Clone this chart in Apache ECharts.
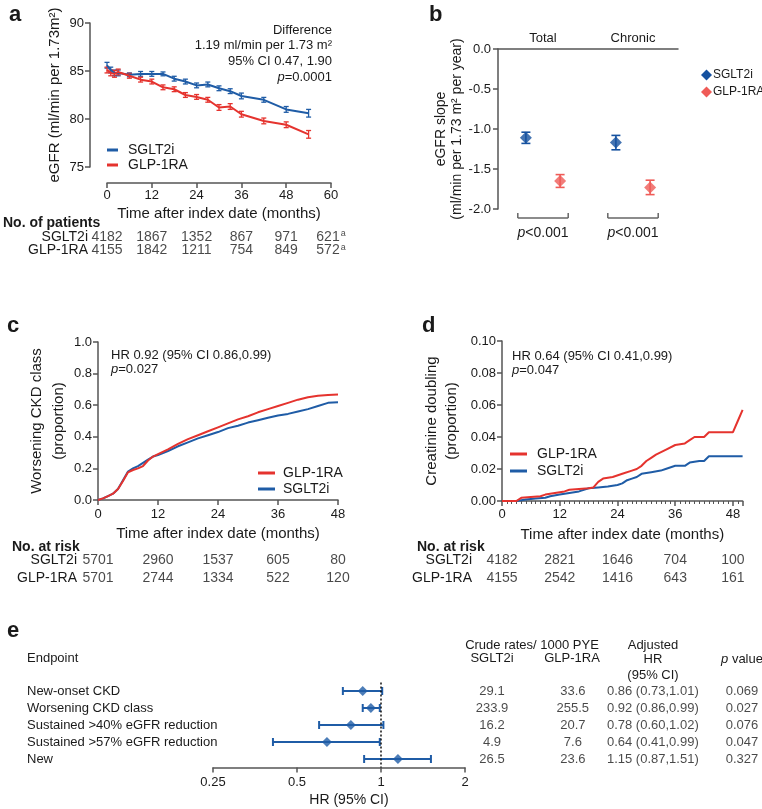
<!DOCTYPE html>
<html><head><meta charset="utf-8">
<script src="https://cdn.jsdelivr.net/npm/echarts@6/dist/echarts.min.js"></script>
<style>html,body{margin:0;padding:0;background:#fff}#c{width:762px;height:809px}</style>
</head><body><div id="c"></div>
<script>
// ================= DATA =================
// Panel a: eGFR over time
const aMonths  = [0,1,2,3,6,9,12,15,18,21,24,27,30,33,36,42,48,54];
const aSglt    = [85.6,85.1,84.8,84.8,84.6,84.7,84.7,84.7,84.2,83.9,83.5,83.6,83.2,82.9,82.4,82.0,81.0,80.6];
const aSgltErr = [0.3,0.3,0.3,0.3,0.2,0.25,0.25,0.2,0.25,0.25,0.25,0.25,0.25,0.25,0.3,0.25,0.3,0.4];
const aGlp     = [85.1,84.8,84.7,84.9,84.5,84.1,83.9,83.3,83.1,82.5,82.3,82.0,81.2,81.3,80.5,79.8,79.4,78.4];
const aGlpErr  = [0.3,0.3,0.35,0.3,0.25,0.25,0.25,0.25,0.25,0.25,0.25,0.25,0.3,0.3,0.3,0.3,0.3,0.4];
const aTickMonths = [0,12,24,36,48,60];
const aPatSglt = ['4182','1867','1352','867','971','621'];
const aPatGlp  = ['4155','1842','1211','754','849','572'];
const aPatNote = ['','','','','','a'];
const aAnnot = ['Difference','1.19 ml/min per 1.73 m\u00b2','95% CI 0.47, 1.90'];
const aP = '=0.0001';

// Panel b: eGFR slope
const bCats = ['Total','Chronic'];
const bSglt = [-1.11,-1.17];
const bSgltErr = [0.07,0.09];
const bGlp = [-1.65,-1.73];
const bGlpErr = [0.08,0.09];
const bPval = ['<0.001','<0.001'];

// Panel c: worsening CKD class (cumulative proportion)
const cMonths = [0,1,2,3,4,5,6,7,8,9,10,11,12,14,16,18,20,22,24,26,28,30,32,34,36,38,40,42,44,46,48];
const cGlp  = [0,0.01,0.025,0.04,0.07,0.12,0.175,0.19,0.2,0.215,0.25,0.275,0.29,0.32,0.355,0.385,0.41,0.435,0.46,0.485,0.51,0.53,0.555,0.575,0.595,0.615,0.635,0.65,0.66,0.665,0.668];
const cSglt = [0,0.01,0.025,0.04,0.07,0.125,0.18,0.2,0.215,0.235,0.255,0.275,0.285,0.31,0.34,0.365,0.39,0.41,0.43,0.455,0.47,0.49,0.505,0.52,0.535,0.545,0.56,0.575,0.595,0.615,0.618];
const cHR = 'HR 0.92 (95% CI 0.86,0.99)';
const cP = '=0.027';
const cRiskMonths = [0,12,24,36,48];
const cRiskSglt = ['5701','2960','1537','605','80'];
const cRiskGlp  = ['5701','2744','1334','522','120'];

// Panel d: creatinine doubling
const dGlpMonths = [0,3,4,6,8,9,11,13,14,16,18,19,20,21,23,25,27,28,29,30,31,32,34,36,38,39,40,42,43,48,49,50];
const dGlp = [0,0,0.002,0.0025,0.003,0.004,0.005,0.006,0.007,0.0075,0.008,0.0085,0.012,0.014,0.015,0.017,0.019,0.02,0.022,0.025,0.027,0.029,0.032,0.035,0.036,0.038,0.04,0.04,0.043,0.043,0.05,0.057];
const dSgltMonths = [0,3,5,7,9,10,12,14,16,18,20,22,24,25,26,27,28,29,31,33,34,36,38,39,41,42,43,50];
const dSglt = [0,0,0.001,0.0015,0.002,0.003,0.004,0.005,0.006,0.008,0.0085,0.009,0.01,0.011,0.013,0.014,0.015,0.017,0.018,0.019,0.02,0.022,0.022,0.024,0.025,0.025,0.028,0.028];
const dHR = 'HR 0.64 (95% CI 0.41,0.99)';
const dP = '=0.047';
const dRiskMonths = [0,12,24,36,48];
const dRiskSglt = ['4182','2821','1646','704','100'];
const dRiskGlp  = ['4155','2542','1416','643','161'];

// Panel e: forest plot
const eEndpoints = ['New-onset CKD','Worsening CKD class','Sustained >40% eGFR reduction','Sustained >57% eGFR reduction','New'];
const eHR  = [0.86,0.92,0.78,0.64,1.15];
const eLo  = [0.73,0.86,0.60,0.41,0.87];
const eHi  = [1.01,0.99,1.02,0.99,1.51];
const eRateSglt = ['29.1','233.9','16.2','4.9','26.5'];
const eRateGlp  = ['33.6','255.5','20.7','7.6','23.6'];
const eHRtext = ['0.86 (0.73,1.01)','0.92 (0.86,0.99)','0.78 (0.60,1.02)','0.64 (0.41,0.99)','1.15 (0.87,1.51)'];
const ePval = ['0.069','0.027','0.076','0.047','0.327'];

const groups = ['SGLT2i','GLP-1RA'];

// ================= STYLE / LAYOUT =================
const FONT = '"Liberation Sans", Arial, Helvetica, sans-serif';
const AX = '#555555', TXT = '#1a1a1a';
const BLUE = '#1f5ca6', RED = '#e5332e', BLUE_B = '#15519f', RED_B = '#ef5b57';
const bDodge = 0.19;          // horizontal dodge in panel b (axis units)
const bBracketHalf = 0.28;
const eColX = [0, 0.97, 1.93, 3];  // table column positions in panel e (axis units)

function lab(extra){ return Object.assign({color:TXT, fontSize:13, fontFamily:FONT}, extra||{}); }
function valAxis(o){
  const base = {
    type:'value', gridIndex:o.grid, min:o.min, max:o.max, interval:o.interval,
    axisLine:{show:true, onZero:false, lineStyle:{color:AX, width:1.5}},
    axisTick:{show:true, length:5, lineStyle:{color:AX, width:1.5}},
    axisLabel:lab({margin:o.margin||6, formatter:o.fmt, showMaxLabel:o.showMax}),
    splitLine:{show:false},
    name:o.name, nameLocation:'middle', nameGap:o.nameGap,
    nameTextStyle:{color:TXT, fontSize:o.nameSize||15, fontFamily:FONT, lineHeight:o.nameLH||18, padding:o.namePad||0},
    offset:o.offset||0
  };
  if (o.extra) Object.assign(base, o.extra);
  return base;
}
function hiddenVal(grid,min,max){ return {type:'value', gridIndex:grid, min:min, max:max, show:false, splitLine:{show:false}}; }
function rowAxis(grid, rows, margin, extraLabel){
  return {type:'category', gridIndex:grid, data:rows, inverse:true,
    axisLine:{show:false}, axisTick:{show:false}, splitLine:{show:false},
    axisLabel:lab(Object.assign({margin:margin, fontSize:14, interval:0}, extraLabel||{}))};
}
function vErr(color, cap, lw){
  return function(params, api){
    const x = api.value(0), lo = api.value(1), hi = api.value(2);
    const a = api.coord([x, lo]), b = api.coord([x, hi]);
    const st = {stroke:color, lineWidth:lw, fill:null};
    return {type:'group', children:[
      {type:'line', shape:{x1:a[0],y1:a[1],x2:b[0],y2:b[1]}, style:st},
      {type:'line', shape:{x1:a[0]-cap,y1:a[1],x2:a[0]+cap,y2:a[1]}, style:st},
      {type:'line', shape:{x1:b[0]-cap,y1:b[1],x2:b[0]+cap,y2:b[1]}, style:st}
    ]};
  };
}
function tableSeries(xi, yi, xs, rowsData, notes){
  const data = [];
  rowsData.forEach((row, r) => row.forEach((v, i) => data.push([xs[i], r, v, (notes && notes[r]) ? notes[r][i] : ''])));
  return {type:'scatter', xAxisIndex:xi, yAxisIndex:yi, symbolSize:1, itemStyle:{color:'rgba(0,0,0,0)'},
    silent:true, data:data,
    label:{show:true, position:'inside', color:TXT, fontSize:14, fontFamily:FONT,
      formatter:p => p.value[3] ? p.value[2] + '{s|' + p.value[3] + '}' : String(p.value[2]),
      rich:{s:{fontSize:9, fontFamily:FONT, color:TXT, verticalAlign:'top', padding:[0,0,6,1]}}}};
}
function txt(x, y, text, o){
  o = o || {};
  const st = {text:text, x:x, y:y, fill:TXT, fontSize:o.size||13, fontFamily:FONT,
    fontWeight:o.weight||'normal', align:o.align||'left', textAlign:o.align||'left',
    verticalAlign:'middle', textVerticalAlign:'middle'};
  if (o.rich) st.rich = o.rich;
  return {type:'text', silent:true, style:st};
}
const italicRich = sz => ({i:{fontStyle:'italic', fontSize:sz, fontFamily:FONT, fill:TXT, color:TXT}});

const zip = (xs, ys) => xs.map((x,i) => [x, ys[i]]);

const option = {
  animation:false,
  backgroundColor:'#ffffff',
  textStyle:{fontFamily:FONT},
  grid:[
    {left:107, top:23, width:224, height:144},   // 0 a
    {left:107, top:230, width:224, height:27},   // 1 a table
    {left:498, top:49, width:180, height:160},   // 2 b
    {left:98, top:342, width:240, height:158},   // 3 c
    {left:98, top:551, width:240, height:36},    // 4 c table
    {left:502, top:341, width:240.6, height:160},// 5 d
    {left:502, top:551, width:240.6, height:36}, // 6 d table
    {left:213, top:682.5, width:252, height:85}, // 7 e forest
    {left:492, top:682.5, width:250, height:85}  // 8 e table
  ],
  xAxis:[
    valAxis({grid:0, min:0, max:60, interval:12, offset:16, name:'Time after index date (months)', nameGap:22, margin:6}),
    hiddenVal(1,0,60),
    hiddenVal(2,0.5,2.5),
    {type:'category', gridIndex:2, data:bCats, position:'top', boundaryGap:true,
      axisLine:{show:true, lineStyle:{color:AX, width:1.5}}, axisTick:{show:false},
      axisLabel:lab({margin:4}), splitLine:{show:false}},
    valAxis({grid:3, min:0, max:48, interval:12, name:'Time after index date (months)', nameGap:25, margin:8}),
    hiddenVal(4,0,48),
    valAxis({grid:5, min:0, max:50, interval:12, name:'Time after index date (months)', nameGap:25, margin:7, showMax:false,
      extra:{minorTick:{show:true, splitNumber:12, length:3, lineStyle:{color:AX, width:1}}}}),
    hiddenVal(6,0,50),
    {type:'log', logBase:2, gridIndex:7, min:0.25, max:2,
      axisLine:{show:true, lineStyle:{color:AX, width:1.5}},
      axisTick:{show:true, length:5, lineStyle:{color:AX, width:1.5}},
      axisLabel:lab({margin:8, formatter:v => String(+(+v).toFixed(2))}), splitLine:{show:false}, minorTick:{show:false},
      name:'HR (95% CI)', nameLocation:'middle', nameGap:26,
      nameTextStyle:{color:TXT, fontSize:14, fontFamily:FONT, padding:[0,0,0,20]}},
    hiddenVal(8,0,3)
  ],
  yAxis:[
    valAxis({grid:0, min:75, max:90, interval:5, offset:17, name:'eGFR (ml/min per 1.73m\u00b2)', nameGap:26, margin:6}),
    rowAxis(1, groups, 19),
    valAxis({grid:2, min:-2, max:0, interval:0.5, fmt:v => v.toFixed(1), name:'eGFR slope\n(ml/min per 1.73 m\u00b2 per year)', nameGap:32, nameSize:14, nameLH:16, margin:7}),
    valAxis({grid:3, min:0, max:1, interval:0.2, fmt:v => v.toFixed(1), name:'Worsening CKD class\n(proportion)', nameGap:26, nameLH:22, margin:6}),
    rowAxis(4, groups, 21),
    valAxis({grid:5, min:0, max:0.1, interval:0.02, fmt:v => v.toFixed(2), name:'Creatinine doubling\n(proportion)', nameGap:40, nameLH:20, margin:6}),
    rowAxis(6, groups, 30),
    rowAxis(7, eEndpoints, 186, {align:'left', fontSize:13}),
    {type:'category', gridIndex:8, data:eEndpoints, inverse:true, show:false}
  ],
  legend:[
    {left:107, top:143, padding:0, orient:'vertical', itemGap:1, itemWidth:11, itemHeight:3, icon:'rect',
      textStyle:lab({fontSize:14, padding:[0,0,0,5]}), selectedMode:false,
      data:[{name:'SGLT2i'},{name:'GLP-1RA'}]},
    {left:701, top:69, padding:0, orient:'vertical', itemGap:5, itemWidth:11, itemHeight:11,
      textStyle:lab({fontSize:12, padding:[0,0,0,-4]}), selectedMode:false,
      data:[{name:'SGLT2i', icon:'diamond', itemStyle:{color:BLUE_B}},{name:'GLP-1RA', icon:'diamond', itemStyle:{color:RED_B}}]},
    {left:258, top:466, padding:0, orient:'vertical', itemGap:2, itemWidth:17, itemHeight:3, icon:'rect',
      textStyle:lab({fontSize:14, padding:[0,0,0,3]}), selectedMode:false,
      data:[{name:'GLP-1RA'},{name:'SGLT2i'}]},
    {left:510, top:447, padding:0, orient:'vertical', itemGap:3, itemWidth:17, itemHeight:3, icon:'rect',
      textStyle:lab({fontSize:14, padding:[0,0,0,5]}), selectedMode:false,
      data:[{name:'GLP-1RA'},{name:'SGLT2i'}]}
  ],
  series:[
    // ---- a ----
    {name:'SGLT2i', type:'line', xAxisIndex:0, yAxisIndex:0, data:zip(aMonths,aSglt), showSymbol:false, symbol:'none',
      lineStyle:{color:BLUE, width:2}, itemStyle:{color:BLUE}},
    {name:'GLP-1RA', type:'line', xAxisIndex:0, yAxisIndex:0, data:zip(aMonths,aGlp), showSymbol:false, symbol:'none',
      lineStyle:{color:RED, width:2}, itemStyle:{color:RED}},
    {name:'aErrS', type:'custom', xAxisIndex:0, yAxisIndex:0, renderItem:vErr(BLUE,2.5,1.3), silent:true,
      data:aMonths.map((m,i)=>[m, aSglt[i]-aSgltErr[i], aSglt[i]+aSgltErr[i]]), encode:{x:0, y:[1,2]}},
    {name:'aErrG', type:'custom', xAxisIndex:0, yAxisIndex:0, renderItem:vErr(RED,2.5,1.3), silent:true,
      data:aMonths.map((m,i)=>[m, aGlp[i]-aGlpErr[i], aGlp[i]+aGlpErr[i]]), encode:{x:0, y:[1,2]}},
    tableSeries(1, 1, aTickMonths, [aPatSglt, aPatGlp], [aPatNote, aPatNote]),
    // ---- b ----
    {name:'bErrS', type:'custom', xAxisIndex:2, yAxisIndex:2, renderItem:vErr(BLUE_B,4.5,1.6), silent:true,
      data:bCats.map((c,i)=>[i+1-bDodge, bSglt[i]-bSgltErr[i], bSglt[i]+bSgltErr[i]]), encode:{x:0, y:[1,2]}},
    {name:'bErrG', type:'custom', xAxisIndex:2, yAxisIndex:2, renderItem:vErr(RED_B,4.5,1.6), silent:true,
      data:bCats.map((c,i)=>[i+1+bDodge, bGlp[i]-bGlpErr[i], bGlp[i]+bGlpErr[i]]), encode:{x:0, y:[1,2]}},
    {name:'SGLT2i', type:'scatter', xAxisIndex:2, yAxisIndex:2, symbol:'diamond', symbolSize:12,
      itemStyle:{color:BLUE_B}, data:bCats.map((c,i)=>[i+1-bDodge, bSglt[i]])},
    {name:'GLP-1RA', type:'scatter', xAxisIndex:2, yAxisIndex:2, symbol:'diamond', symbolSize:12,
      itemStyle:{color:RED_B}, data:bCats.map((c,i)=>[i+1+bDodge, bGlp[i]])},
    {name:'bBracket', type:'custom', xAxisIndex:2, yAxisIndex:2, silent:true, clip:false,
      data:bCats.map((c,i)=>[i+1, -2, i]), encode:{x:0, y:1},
      renderItem:function(params, api){
        const x = api.value(0), idx = api.value(2);
        const L = api.coord([x-bBracketHalf, -2]), R = api.coord([x+bBracketHalf, -2]);
        const y = L[1] + 9;
        const st = {stroke:'#666', lineWidth:1.5, fill:null};
        return {type:'group', children:[
          {type:'line', shape:{x1:L[0],y1:y,x2:R[0],y2:y}, style:st},
          {type:'line', shape:{x1:L[0],y1:y,x2:L[0],y2:y-5}, style:st},
          {type:'line', shape:{x1:R[0],y1:y,x2:R[0],y2:y-5}, style:st},
          {type:'text', style:{text:'{i|p}'+bPval[idx], x:(L[0]+R[0])/2, y:y+15, align:'center', verticalAlign:'middle',
            fill:TXT, fontSize:14, fontFamily:FONT, rich:italicRich(14)}}
        ]};
      }},
    // ---- c ----
    {name:'SGLT2i', type:'line', xAxisIndex:4, yAxisIndex:3, data:zip(cMonths,cSglt), showSymbol:false, symbol:'none',
      lineStyle:{color:BLUE, width:2}, itemStyle:{color:BLUE}},
    {name:'GLP-1RA', type:'line', xAxisIndex:4, yAxisIndex:3, data:zip(cMonths,cGlp), showSymbol:false, symbol:'none',
      lineStyle:{color:RED, width:2}, itemStyle:{color:RED}},
    tableSeries(5, 4, cRiskMonths, [cRiskSglt, cRiskGlp]),
    // ---- d ----
    {name:'SGLT2i', type:'line', xAxisIndex:6, yAxisIndex:5, data:zip(dSgltMonths,dSglt), showSymbol:false, symbol:'none',
      lineStyle:{color:BLUE, width:2}, itemStyle:{color:BLUE}},
    {name:'GLP-1RA', type:'line', xAxisIndex:6, yAxisIndex:5, data:zip(dGlpMonths,dGlp), showSymbol:false, symbol:'none',
      lineStyle:{color:RED, width:2}, itemStyle:{color:RED}},
    tableSeries(7, 6, dRiskMonths, [dRiskSglt, dRiskGlp]),
    // ---- e ----
    {name:'eCI', type:'custom', xAxisIndex:8, yAxisIndex:7, silent:true,
      data:eEndpoints.map((e,i)=>[eLo[i], eHi[i], i]), encode:{x:[0,1], y:2},
      renderItem:function(params, api){
        const a = api.coord([api.value(0), api.value(2)]), b = api.coord([api.value(1), api.value(2)]);
        const st = {stroke:BLUE, lineWidth:2, fill:null};
        return {type:'group', children:[
          {type:'line', shape:{x1:a[0],y1:a[1],x2:b[0],y2:b[1]}, style:st},
          {type:'line', shape:{x1:a[0],y1:a[1]-4,x2:a[0],y2:a[1]+4}, style:st},
          {type:'line', shape:{x1:b[0],y1:b[1]-4,x2:b[0],y2:b[1]+4}, style:st}
        ]};
      }},
    {name:'eHR', type:'scatter', xAxisIndex:8, yAxisIndex:7, symbol:'diamond', symbolSize:10, silent:true,
      itemStyle:{color:BLUE}, data:eEndpoints.map((e,i)=>[eHR[i], i]),
      markLine:{silent:true, symbol:'none', label:{show:false},
        lineStyle:{color:'#111', type:[2,2], width:1.5}, data:[{xAxis:1}]}},
    {name:'eTable', type:'scatter', xAxisIndex:9, yAxisIndex:8, symbolSize:1, silent:true,
      itemStyle:{color:'rgba(0,0,0,0)'},
      data:[].concat(
        eEndpoints.map((e,i)=>[eColX[0], i, eRateSglt[i]]),
        eEndpoints.map((e,i)=>[eColX[1], i, eRateGlp[i]]),
        eEndpoints.map((e,i)=>[eColX[2], i, eHRtext[i]]),
        eEndpoints.map((e,i)=>[eColX[3], i, ePval[i]])),
      label:{show:true, position:'inside', color:TXT, fontSize:13, fontFamily:FONT, formatter:p => String(p.value[2])}}
  ],
  graphic:[
    txt(9, 14.5, 'a', {size:22, weight:'bold'}),
    txt(429, 14.5, 'b', {size:22, weight:'bold'}),
    txt(7, 325.5, 'c', {size:22, weight:'bold'}),
    txt(422, 325.5, 'd', {size:22, weight:'bold'}),
    txt(7, 630.5, 'e', {size:22, weight:'bold'}),
    txt(332, 30, aAnnot[0], {align:'right'}),
    txt(332, 45.5, aAnnot[1], {align:'right'}),
    txt(332, 61, aAnnot[2], {align:'right'}),
    txt(332, 77, '{i|p}'+aP, {align:'right', rich:italicRich(13)}),
    txt(3, 223, 'No. of patients', {size:14, weight:'bold'}),
    txt(111, 355, cHR),
    txt(111, 369.5, '{i|p}'+cP, {rich:italicRich(13)}),
    txt(12, 547, 'No. at risk', {size:14, weight:'bold'}),
    txt(512, 356, dHR),
    txt(512, 370.5, '{i|p}'+dP, {rich:italicRich(13)}),
    txt(417, 547, 'No. at risk', {size:14, weight:'bold'}),
    txt(27, 658, 'Endpoint'),
    txt(532, 645, 'Crude rates/ 1000 PYE', {align:'center'}),
    txt(492, 658, 'SGLT2i', {align:'center'}),
    txt(572, 658, 'GLP-1RA', {align:'center'}),
    txt(653, 645, 'Adjusted', {align:'center'}),
    txt(653, 659, 'HR', {align:'center'}),
    txt(653, 675, '(95% CI)', {align:'center'}),
    txt(742, 659, '{i|p} value', {align:'center', rich:italicRich(13)})
  ]
};
const chart = echarts.init(document.getElementById('c'), null, {renderer:'canvas'});
chart.setOption(option);
</script></body></html>
